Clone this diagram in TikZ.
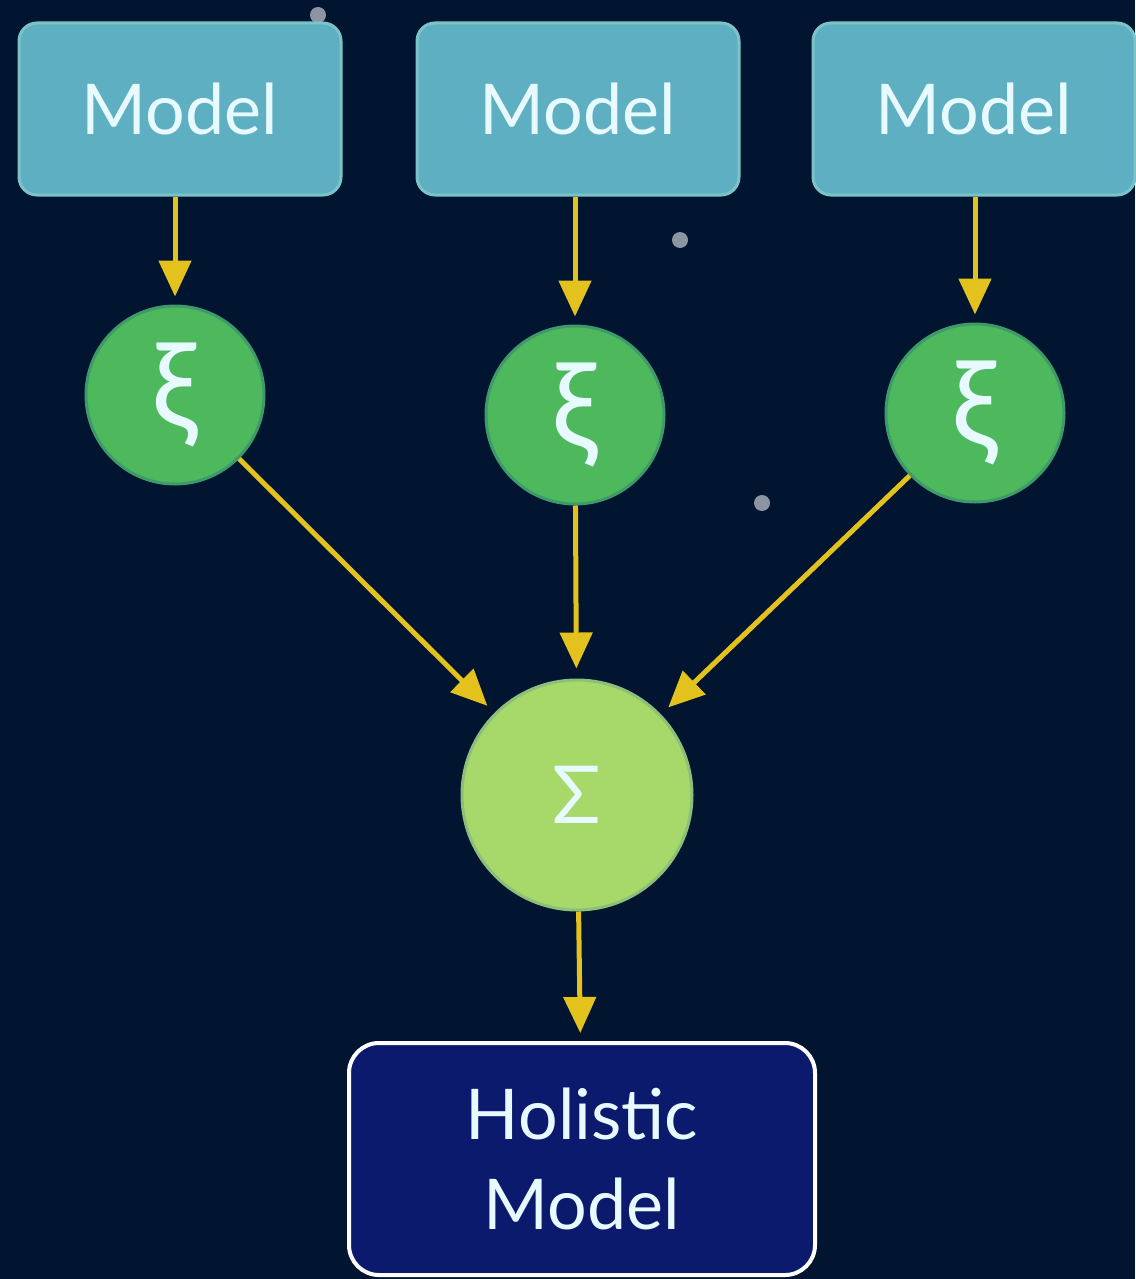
\documentclass[tikz,border=0pt]{standalone}
\usepackage{fontspec}
\setmainfont{Lato}
\usetikzlibrary{arrows.meta}
\definecolor{bgnavy}{HTML}{021530}
\definecolor{modelfill}{HTML}{5FAFC2}
\definecolor{modeledge}{HTML}{7CC3C8}
\definecolor{xifill}{HTML}{4DB85C}
\definecolor{xiedge}{HTML}{3E9A6A}
\definecolor{sigfill}{HTML}{A6D86A}
\definecolor{sigedge}{HTML}{8CC07A}
\definecolor{arrowgold}{HTML}{E3C21E}
\definecolor{holfill}{HTML}{0C1A6E}
\definecolor{textwhite}{HTML}{E6FAFF}
\tikzset{
  modelbox/.style={draw=modeledge, line width=3pt, fill=modelfill, rounded corners=18pt,
    minimum width=322pt, minimum height=172pt, text=textwhite, font=\fontsize{70}{84}\selectfont},
  xinode/.style={circle, draw=xiedge, line width=3pt, fill=xifill, minimum size=178pt, inner sep=0pt,
    text=textwhite, font=\fontsize{118}{120}\selectfont},
  signode/.style={circle, draw=sigedge, line width=3pt, fill=sigfill, minimum size=230pt, inner sep=0pt,
    text=textwhite, font=\fontsize{80}{84}\selectfont},
  holbox/.style={draw=white, line width=4pt, fill=holfill, rounded corners=30pt,
    minimum width=466pt, minimum height=232pt, text=textwhite, align=center,
    font=\fontsize{70}{90}\selectfont},
  flow/.style={draw=arrowgold, line width=5pt, -{Triangle[length=36pt,width=32pt]},
    shorten >=8pt},
  star/.style={fill=white, fill opacity=0.55, draw=none},
}
\begin{document}
\begin{tikzpicture}[x=1pt,y=-1pt]
\fill[bgnavy] (0,0) rectangle (1135,1279);
\useasboundingbox (0,0) rectangle (1135,1279);
% stars
\fill[star] (318,15) circle (8pt);
\fill[star] (680,240) circle (8pt);
\fill[star] (762,503) circle (8pt);
% model boxes
\node[modelbox] (m1) at (180,109) {Model};
\node[modelbox] (m2) at (578,109) {Model};
\node[modelbox] (m3) at (974,109) {Model};
% xi circles
\node[xinode] (x1) at (175,395) {ξ};
\node[xinode] (x2) at (575,415) {ξ};
\node[xinode] (x3) at (975,413) {ξ};
% sigma
\node[signode] (s) at (577,795) {Σ};
% holistic model
\node[holbox] (h) at (582,1159) {Holistic\\Model};
% arrows
\draw[flow] (m1.south -| x1) -- (x1);
\draw[flow] (m2.south -| x2) -- (x2);
\draw[flow] (m3.south -| x3) -- (x3);
\draw[flow, shorten >=10pt] (x1) -- (s);
\draw[flow, shorten >=10pt] (x2) -- (s);
\draw[flow, shorten >=10pt] (x3) -- (s);
\draw[flow] (s) -- (h);
\end{tikzpicture}
\end{document}
